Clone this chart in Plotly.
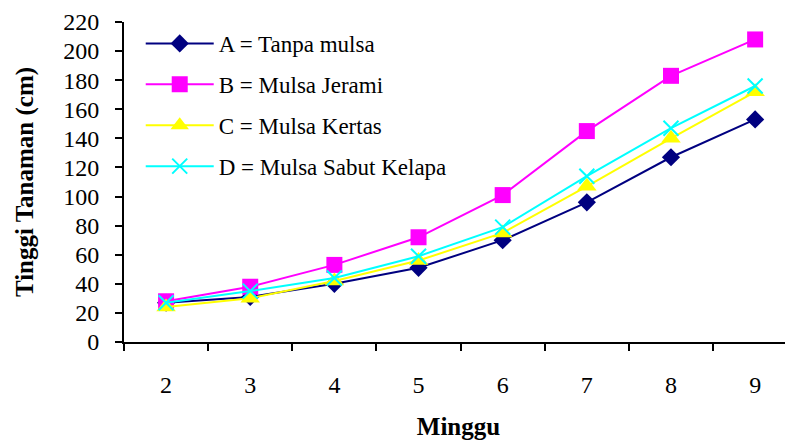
import plotly.graph_objects as go

minggu = ["2", "3", "4", "5", "6", "7", "8", "9"]
a_tanpa_mulsa = [27, 31, 40, 51, 70, 96, 127, 153]
b_mulsa_jerami = [28, 38, 53, 72, 101, 145, 183, 208]
c_mulsa_kertas = [24, 30, 42, 56, 75, 107, 140, 172]
d_mulsa_sabut = [27, 35, 44, 59, 79, 114, 147, 176]
y_ticks = list(range(0, 221, 20))

series = [
    ("A = Tanpa mulsa", a_tanpa_mulsa, "#000080", "diamond", 14),
    ("B = Mulsa Jerami", b_mulsa_jerami, "#FF00FF", "square", 16),
    ("C = Mulsa Kertas", c_mulsa_kertas, "#FFFF00", "triangle-up", 17),
    ("D = Mulsa Sabut Kelapa", d_mulsa_sabut, "#00FFFF", "x-thin-open", 15),
]

FONT = "Liberation Serif, Times New Roman, serif"
fig = go.Figure()
for i, (name, vals, col, sym, sz) in enumerate(series):
    marker = dict(symbol=sym, size=sz, color=col)
    if sym == "x-thin-open":
        marker["line"] = dict(color=col, width=2)
    fig.add_trace(go.Scatter(
        x=minggu, y=vals, name=name, mode="lines+markers",
        line=dict(color=col, width=2), marker=marker,
        legendgroup=str(i),
    ))

# page body has an 8px margin, so the figure is 8px smaller than the window
fig.update_layout(
    width=785, height=432,
    margin=dict(l=116, r=0, t=14, b=98),
    paper_bgcolor="white", plot_bgcolor="white",
    font=dict(family=FONT, color="black", size=24),
    showlegend=True,
    legend=dict(
        x=0.025, y=1.0, xanchor="left", yanchor="top",
        bgcolor="rgba(0,0,0,0)", font=dict(size=23, family=FONT),
        tracegroupgap=8, itemwidth=68,
    ),
    xaxis=dict(
        type="category", range=[-0.5, 7.45], automargin=False,
        showline=True, linecolor="black", linewidth=2,
        ticks="outside", ticklen=7, tickwidth=2, tickcolor="black",
        tickson="boundaries", showgrid=False, zeroline=False,
        ticklabelstandoff=20,
        title=dict(text="<b>Minggu</b>", font=dict(size=25, family=FONT), standoff=21),
    ),
    yaxis=dict(
        range=[0, 220], tickvals=y_ticks, automargin=False,
        showline=True, linecolor="black", linewidth=2,
        ticks="outside", ticklen=7, tickwidth=2, tickcolor="black",
        showgrid=False, zeroline=False, ticklabelstandoff=11,
        title=dict(text="<b>Tinggi Tanaman (cm)</b>", font=dict(size=25, family=FONT), standoff=22),
    ),
)

fig.write_html("out.html")
